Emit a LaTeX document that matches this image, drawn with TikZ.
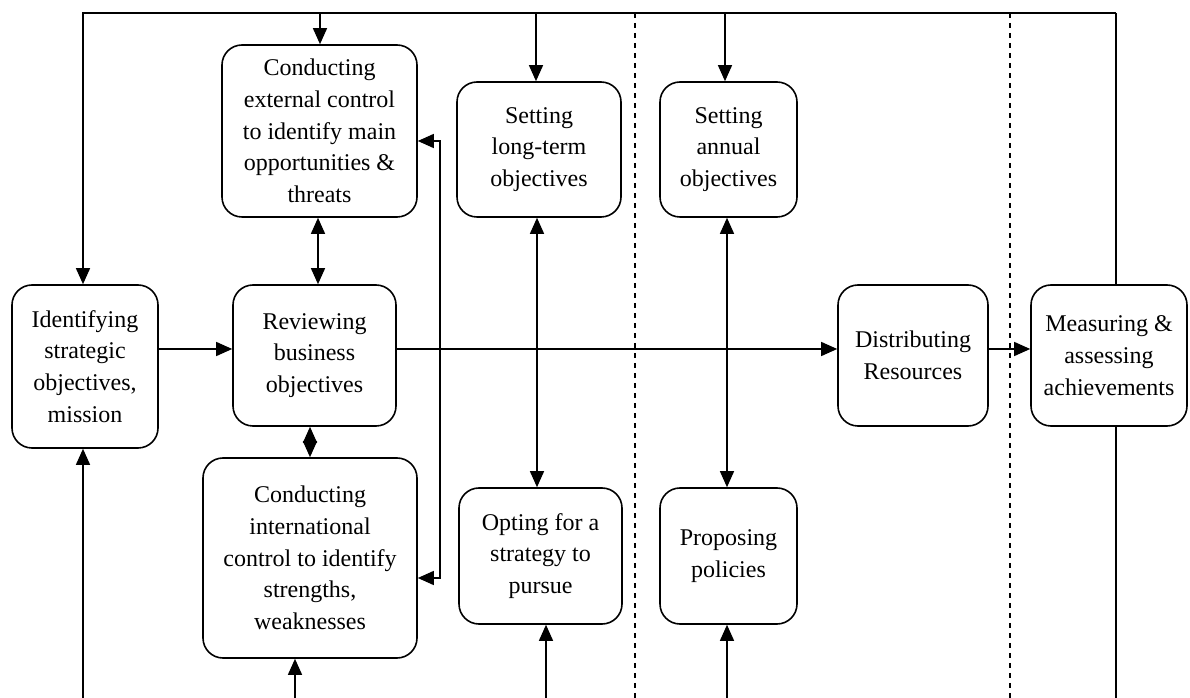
\documentclass[tikz,border=0pt]{standalone}
\usepackage{fontspec}
\setmainfont{Liberation Serif}
\usetikzlibrary{arrows.meta}
\tikzset{>={Triangle[length=12pt,width=10.5pt]}}
\tikzset{
  box/.style={draw, line width=1.2pt, rounded corners=15pt, align=center,
    inner sep=2pt, font=\fontsize{18}{23.8}\selectfont},
  link/.style={line width=1pt},
  zone/.style={line width=1pt, dash pattern=on 4pt off 3.5pt}
}

\begin{document}
\begin{tikzpicture}[x=0.75pt,y=-0.75pt]
  % 画布范围
  \useasboundingbox (0,0) rectangle (1190,698);

  % 坐标点定义
  \coordinate (TL) at (83,13);
  \coordinate (TR) at (1116,13);
  \coordinate (T1) at (320,13);
  \coordinate (T2) at (536,13);
  \coordinate (T3) at (725,13);
  \coordinate (B0) at (83,698);
  \coordinate (B1) at (295,698);
  \coordinate (B2) at (546,698);
  \coordinate (B3) at (727,698);
  \coordinate (BR) at (1116,698);
  \coordinate (D1) at (635,13);
  \coordinate (D1b) at (635,698);
  \coordinate (D2) at (1010,13);
  \coordinate (D2b) at (1010,698);
  \coordinate (H) at (0,349);
  \coordinate (V1) at (318,0);
  \coordinate (V2) at (310,0);
  \coordinate (V3) at (537,0);
  \coordinate (V4) at (727,0);
  \coordinate (S1) at (440,141);
  \coordinate (S2) at (440,578);

  % 分隔虚线
  \draw[zone] (D1) -- (D1b);
  \draw[zone] (D2) -- (D2b);

  % 方框
  \node[box, minimum width=109.5pt, minimum height=122.25pt] (ident) at (85,366.5)
    {Identifying\\strategic\\objectives,\\mission};
  \node[box, minimum width=122.25pt, minimum height=105.75pt] (review) at (314.5,355.5)
    {Reviewing\\business\\objectives};
  \node[box, minimum width=146.25pt, minimum height=129pt] (extern) at (319.5,131)
    {Conducting\\external control\\to identify main\\opportunities \&\\threats};
  \node[box, minimum width=160.5pt, minimum height=150pt] (intl) at (310,558)
    {Conducting\\international\\control to identify\\strengths,\\weaknesses};
  \node[box, minimum width=123pt, minimum height=101.25pt] (longterm) at (539,149.5)
    {Setting\\long-term\\objectives};
  \node[box, minimum width=122.25pt, minimum height=102pt] (opting) at (540.5,556)
    {Opting for a\\strategy to\\pursue};
  \node[box, minimum width=102.75pt, minimum height=101.25pt] (annual) at (728.5,149.5)
    {Setting\\annual\\objectives};
  \node[box, minimum width=102.75pt, minimum height=102pt] (propose) at (728.5,556)
    {Proposing\\policies};
  \node[box, minimum width=112.5pt, minimum height=105.75pt] (distrib) at (913,355.5)
    {Distributing\\Resources};
  \node[box, minimum width=117pt, minimum height=105.75pt] (measure) at (1109,355.5)
    {Measuring \&\\assessing\\achievements};

  % 上方反馈线
  \draw[link,->] (TR) -- (TL) -- (TL |- ident.north);
  \draw[link] (TR) -- (TR |- measure.north);
  \draw[link,->] (T1) -- (T1 |- extern.north);
  \draw[link,->] (T2) -- (T2 |- longterm.north);
  \draw[link,->] (T3) -- (T3 |- annual.north);

  % 下方反馈线
  \draw[link,->] (B0) -- (B0 |- ident.south);
  \draw[link,->] (B1) -- (B1 |- intl.south);
  \draw[link,->] (B2) -- (B2 |- opting.south);
  \draw[link,->] (B3) -- (B3 |- propose.south);
  \draw[link] (BR) -- (BR |- measure.south);

  % 主流程
  \draw[link,->] (ident.east |- H) -- (review.west |- H);
  \draw[link,->] (review.east |- H) -- (distrib.west |- H);
  \draw[link,->] (distrib.east |- H) -- (measure.west |- H);

  % 双向箭头
  \draw[link,<->] (V1 |- extern.south) -- (V1 |- review.north);
  \draw[link,<->] (V2 |- review.south) -- (V2 |- intl.north);
  \draw[link,<->] (V3 |- longterm.south) -- (V3 |- opting.north);
  \draw[link,<->] (V4 |- annual.south) -- (V4 |- propose.north);
  \draw[link,<->] (extern.east |- S1) -- (S1) -- (S2) -- (intl.east |- S2);
\end{tikzpicture}
\end{document}
